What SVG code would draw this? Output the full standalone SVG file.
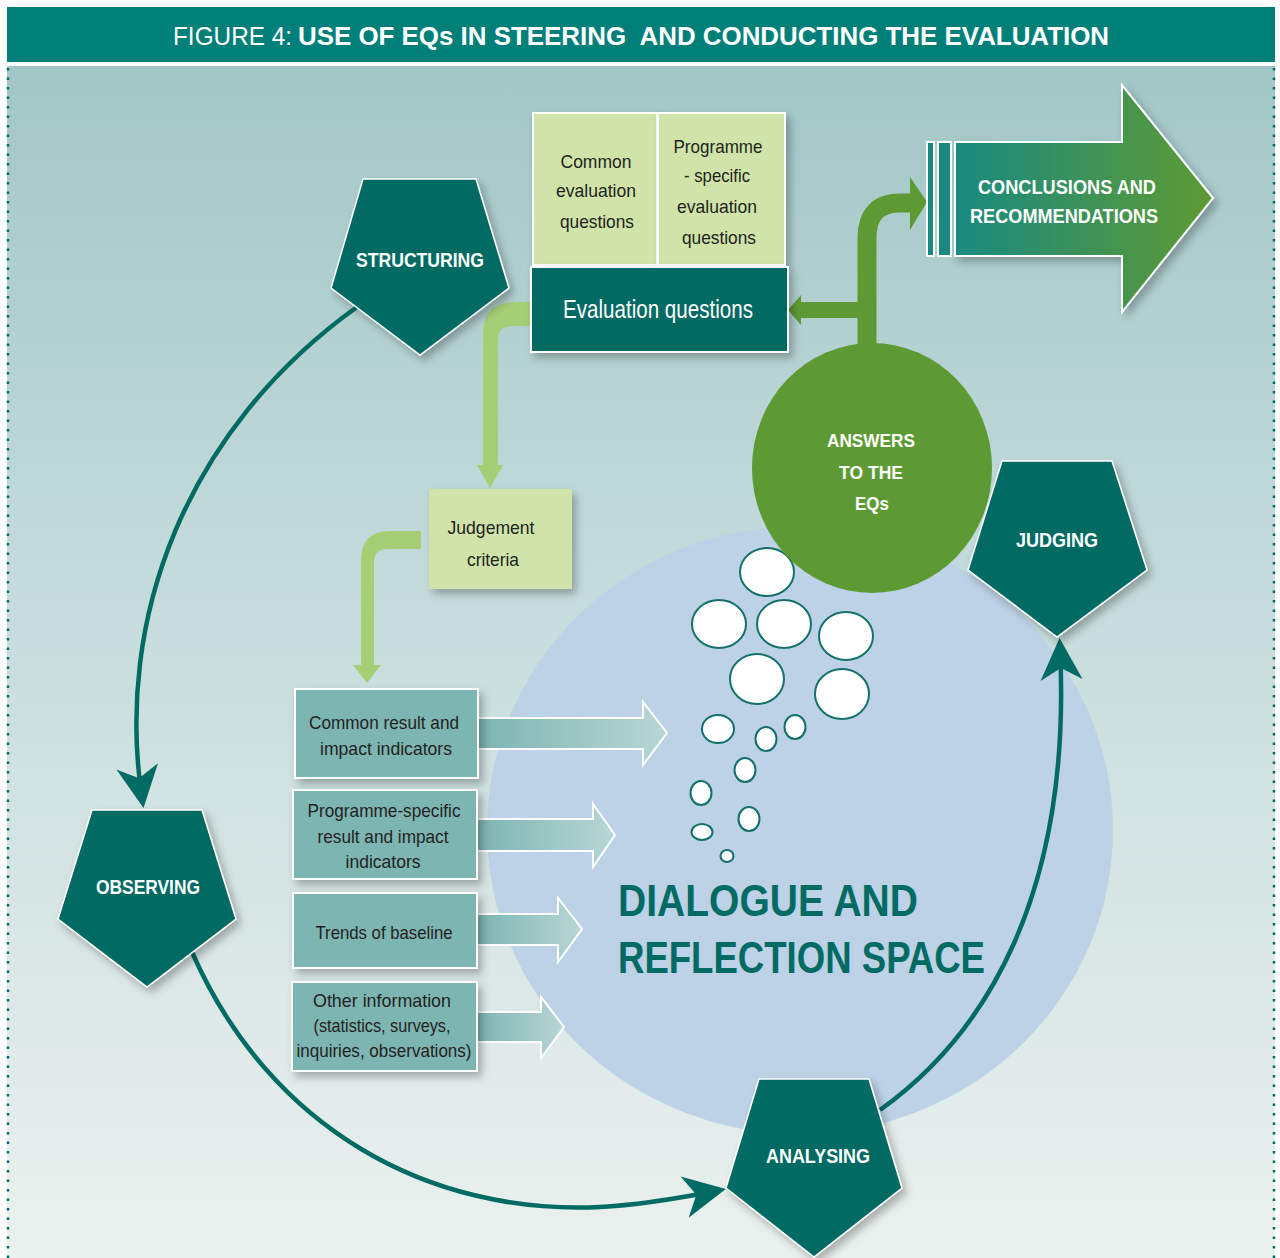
<svg xmlns="http://www.w3.org/2000/svg" width="1280" height="1258" viewBox="0 0 1280 1258">
<style>
.t{font-family:"Liberation Sans Narrow","Liberation Sans",Arial,sans-serif;}
.lbl{font-family:"Liberation Sans Narrow","Liberation Sans",Arial,sans-serif;font-weight:bold;fill:#fff;text-anchor:middle;}
.dk{font-family:"Liberation Sans Narrow","Liberation Sans",Arial,sans-serif;fill:#231f20;text-anchor:middle;font-size:19px;}
.pent{fill:#006b63;stroke:#fff;stroke-width:1.5;}
.lg{fill:#d0e4aa;stroke:#fff;stroke-width:2;}
.ind{fill:#7db5b2;stroke:#fff;stroke-width:2;}
.iarr{fill:url(#gi);stroke:#fff;stroke-width:2;}
.bub{fill:#fff;stroke:#13706a;stroke-width:2;}
.arc{fill:none;stroke:#006b63;stroke-width:4.5;}
</style>
<defs>
<linearGradient id="bg" x1="0" y1="0" x2="0" y2="1">
<stop offset="0" stop-color="#a2c6c7"/>
<stop offset="0.45" stop-color="#c6dcdc"/>
<stop offset="1" stop-color="#ebf1ef"/>
</linearGradient>
<linearGradient id="gc" x1="0" y1="0" x2="1" y2="0">
<stop offset="0" stop-color="#1a8a80"/>
<stop offset="1" stop-color="#5e9a33"/>
</linearGradient>
<linearGradient id="gi" x1="0" y1="0" x2="1" y2="0">
<stop offset="0" stop-color="#7db5b2"/>
<stop offset="1" stop-color="#b8d6d4"/>
</linearGradient>
<filter id="sh" x="-20%" y="-20%" width="150%" height="150%">
<feDropShadow dx="4" dy="5" stdDeviation="4" flood-color="#000" flood-opacity="0.28"/>
</filter>
<marker id="ah" markerUnits="userSpaceOnUse" viewBox="-40 -24 56 48" refX="0" refY="0" markerWidth="56" markerHeight="48" orient="auto">
<path d="M10,0 L-32,-21 L-20,0 L-32,21 Z" fill="#006b63"/>
</marker>
</defs>

<!-- background -->
<rect x="7" y="66" width="1268" height="1192" fill="url(#bg)"/>
<line x1="8" y1="68" x2="8" y2="1258" stroke="#006b63" stroke-width="2.5" stroke-dasharray="2.5,7"/>
<line x1="1274" y1="68" x2="1274" y2="1258" stroke="#006b63" stroke-width="2.5" stroke-dasharray="2.5,7"/>
<rect x="7" y="7" width="1268" height="55" fill="#008079"/>
<text class="t" x="173" y="45" font-size="26" fill="#fff" textLength="119" lengthAdjust="spacingAndGlyphs">FIGURE 4:</text>
<text class="t" x="298" y="45" font-size="26" font-weight="bold" fill="#fff" textLength="811" lengthAdjust="spacingAndGlyphs" xml:space="preserve" style="white-space:pre">USE OF EQs IN STEERING  AND CONDUCTING THE EVALUATION</text>

<!-- dialogue space -->
<g id="dialogue">
<ellipse cx="800" cy="830" rx="313" ry="304" fill="#bdd2e6"/>
<text class="t" x="618" y="916" font-size="44" font-weight="bold" fill="#006b63" textLength="300" lengthAdjust="spacingAndGlyphs">DIALOGUE AND</text>
<text class="t" x="618" y="973" font-size="44" font-weight="bold" fill="#006b63" textLength="367" lengthAdjust="spacingAndGlyphs">REFLECTION SPACE</text>
</g>

<!-- connectors -->
<g id="connectors">
<path class="arc" d="M357 307 C185 430 115 620 142 798" marker-end="url(#ah)"/>
<path class="arc" d="M192 952 C270 1130 430 1215 600 1207 C640 1205 680 1198 716 1191" marker-end="url(#ah)"/>
<path class="arc" d="M880 1110 C985 1035 1072 895 1060 648" marker-end="url(#ah)"/>
<!-- light green arrows -->
<path d="M531 302 L515 302 Q483 302 483 334 L483 466 L498 466 L498 340 Q498 326 512 326 L531 326 Z" fill="#a6ce74"/>
<polygon points="477,465 503,465 490,488" fill="#a6ce74"/>
<path d="M421 531 L390 531 Q361 531 361 560 L361 666 L374 666 L374 562 Q374 549 388 549 L421 549 Z" fill="#a6ce74"/>
<polygon points="353,665 381,665 367,683" fill="#a6ce74"/>
<!-- dark green arrows -->
<path d="M867 350 L867 238 Q867 203 900 203 L912 203" fill="none" stroke="#5e9a33" stroke-width="19"/>
<polygon points="910,177 927,202 910,230" fill="#5e9a33"/>
<path d="M867 310 L798 310" fill="none" stroke="#5e9a33" stroke-width="16"/>
<polygon points="801,295 788,310 801,325" fill="#5e9a33"/>
<!-- indicator arrows -->
<path class="iarr" d="M478 718 L643 718 L643 702 L667 733 L643 765 L643 749 L478 749 Z"/>
<path class="iarr" d="M477 819 L593 819 L593 804 L615 835 L593 867 L593 851 L477 851 Z"/>
<path class="iarr" d="M477 914 L558 914 L558 898 L582 929 L558 962 L558 945 L477 945 Z"/>
<path class="iarr" d="M477 1012 L541 1012 L541 997 L564 1027 L541 1058 L541 1042 L477 1042 Z"/>
</g>

<!-- bubbles -->
<g id="bubbles">
<ellipse class="bub" cx="767" cy="572" rx="27" ry="24"/>
<ellipse class="bub" cx="719" cy="624" rx="27" ry="24"/>
<ellipse class="bub" cx="784" cy="624" rx="27" ry="24"/>
<ellipse class="bub" cx="846" cy="636" rx="27" ry="24"/>
<ellipse class="bub" cx="757" cy="679" rx="27" ry="25"/>
<ellipse class="bub" cx="842" cy="694" rx="27" ry="25"/>
<ellipse class="bub" cx="718" cy="729" rx="16" ry="14"/>
<ellipse class="bub" cx="766" cy="739" rx="10.5" ry="12"/>
<ellipse class="bub" cx="795" cy="727" rx="10.5" ry="12"/>
<ellipse class="bub" cx="745" cy="770" rx="10.5" ry="12"/>
<ellipse class="bub" cx="701" cy="793" rx="10.5" ry="12"/>
<ellipse class="bub" cx="749" cy="819" rx="10.5" ry="12"/>
<ellipse class="bub" cx="702" cy="832" rx="10.5" ry="8"/>
<ellipse class="bub" cx="727" cy="856" rx="6.5" ry="6"/>
</g>

<!-- answers circle -->
<g id="answers">
<ellipse cx="872" cy="468" rx="120" ry="125" fill="#5e9a33"/>
<text class="lbl" x="871" y="447" font-size="19" textLength="88" lengthAdjust="spacingAndGlyphs">ANSWERS</text>
<text class="lbl" x="871" y="479" font-size="19" textLength="64" lengthAdjust="spacingAndGlyphs">TO THE</text>
<text class="lbl" x="872" y="510" font-size="19" textLength="34" lengthAdjust="spacingAndGlyphs">EQs</text>
</g>

<!-- pentagons -->
<g id="structuring">
<polygon class="pent" filter="url(#sh)" points="363,179 476,179 509,288 420,355 331,288"/>
<text class="lbl" x="420" y="267" font-size="21" textLength="128" lengthAdjust="spacingAndGlyphs">STRUCTURING</text>
</g>
<g id="observing">
<polygon class="pent" filter="url(#sh)" points="92,810 202,810 236,919 147,987 58,919"/>
<text class="lbl" x="148" y="894" font-size="21" textLength="104" lengthAdjust="spacingAndGlyphs">OBSERVING</text>
</g>
<g id="judging">
<polygon class="pent" filter="url(#sh)" points="1002,461 1112,461 1147,570 1057,637 968,570"/>
<text class="lbl" x="1057" y="547" font-size="21" textLength="82" lengthAdjust="spacingAndGlyphs">JUDGING</text>
</g>
<g id="analysing">
<polygon class="pent" filter="url(#sh)" points="759,1079 869,1079 902,1188 814,1257 726,1188"/>
<text class="lbl" x="818" y="1163" font-size="21" textLength="104" lengthAdjust="spacingAndGlyphs">ANALYSING</text>
</g>

<!-- evaluation question boxes -->
<g id="common-eq">
<rect class="lg" filter="url(#sh)" x="533" y="113" width="124" height="152"/>
<text class="dk" x="596" y="168" textLength="71" lengthAdjust="spacingAndGlyphs">Common</text>
<text class="dk" x="596" y="197" textLength="80" lengthAdjust="spacingAndGlyphs">evaluation</text>
<text class="dk" x="597" y="228" textLength="74" lengthAdjust="spacingAndGlyphs">questions</text>
</g>
<g id="programme-eq">
<rect class="lg" filter="url(#sh)" x="658" y="113" width="127" height="152"/>
<text class="dk" x="718" y="153" textLength="89" lengthAdjust="spacingAndGlyphs">Programme</text>
<text class="dk" x="717" y="182" textLength="66" lengthAdjust="spacingAndGlyphs">- specific</text>
<text class="dk" x="717" y="213" textLength="80" lengthAdjust="spacingAndGlyphs">evaluation</text>
<text class="dk" x="719" y="244" textLength="74" lengthAdjust="spacingAndGlyphs">questions</text>
</g>
<g id="evaluation-questions">
<rect filter="url(#sh)" x="531" y="267" width="257" height="85" fill="#006b63" stroke="#fff" stroke-width="2"/>
<text class="t" x="658" y="318" font-size="25" fill="#fff" text-anchor="middle" textLength="190" lengthAdjust="spacingAndGlyphs">Evaluation questions</text>
</g>

<!-- judgement criteria -->
<g id="judgement">
<rect filter="url(#sh)" x="429" y="489" width="143" height="100" fill="#d0e4aa"/>
<text class="dk" x="491" y="534" textLength="87" lengthAdjust="spacingAndGlyphs">Judgement</text>
<text class="dk" x="493" y="566" textLength="52" lengthAdjust="spacingAndGlyphs">criteria</text>
</g>

<!-- conclusions -->
<g id="conclusions">
<rect x="927" y="142" width="7" height="114" fill="#1a8a80" stroke="#fff" stroke-width="2"/>
<rect x="938" y="142" width="13" height="114" fill="#1a8a80" stroke="#fff" stroke-width="2"/>
<path filter="url(#sh)" d="M955 142 L1122 142 L1122 85 L1213 198 L1122 312 L1122 256 L955 256 Z" fill="url(#gc)" stroke="#fff" stroke-width="2"/>
<text class="lbl" x="1067" y="194" font-size="21" font-weight="normal" textLength="178" lengthAdjust="spacingAndGlyphs">CONCLUSIONS AND</text>
<text class="lbl" x="1064" y="223" font-size="21" font-weight="normal" textLength="188" lengthAdjust="spacingAndGlyphs">RECOMMENDATIONS</text>
</g>

<!-- indicator boxes -->
<g id="common-indicators">
<rect class="ind" filter="url(#sh)" x="295" y="689" width="183" height="89"/>
<text class="dk" x="384" y="729" textLength="150" lengthAdjust="spacingAndGlyphs">Common result and</text>
<text class="dk" x="386" y="755" textLength="132" lengthAdjust="spacingAndGlyphs">impact indicators</text>
</g>
<g id="programme-indicators">
<rect class="ind" filter="url(#sh)" x="293" y="790" width="184" height="89"/>
<text class="dk" x="384" y="817" textLength="153" lengthAdjust="spacingAndGlyphs">Programme-specific</text>
<text class="dk" x="383" y="843" textLength="131" lengthAdjust="spacingAndGlyphs">result and impact</text>
<text class="dk" x="383" y="868" textLength="75" lengthAdjust="spacingAndGlyphs">indicators</text>
</g>
<g id="trends">
<rect class="ind" filter="url(#sh)" x="293" y="893" width="184" height="75"/>
<text class="dk" x="384" y="939" textLength="137" lengthAdjust="spacingAndGlyphs">Trends of baseline</text>
</g>
<g id="other-info">
<rect class="ind" filter="url(#sh)" x="292" y="982" width="185" height="89"/>
<text class="dk" x="382" y="1007" textLength="138" lengthAdjust="spacingAndGlyphs">Other information</text>
<text class="dk" x="382" y="1032" textLength="137" lengthAdjust="spacingAndGlyphs">(statistics, surveys,</text>
<text class="dk" x="384" y="1057" textLength="175" lengthAdjust="spacingAndGlyphs">inquiries, observations)</text>
</g>
</svg>
